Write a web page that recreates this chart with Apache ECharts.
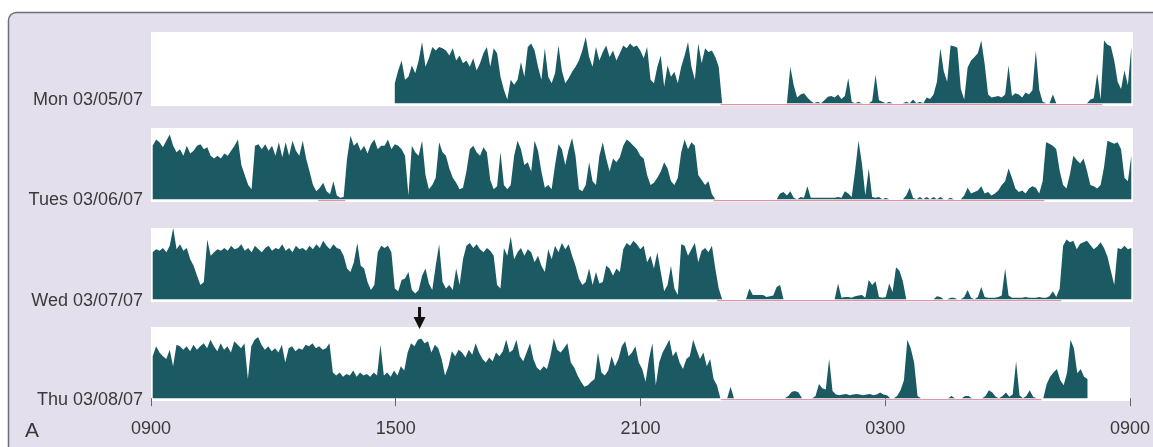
<!DOCTYPE html>
<html>
<head>
<meta charset="utf-8">
<script src="https://cdn.jsdelivr.net/npm/echarts@6/dist/echarts.min.js"></script>
<style>
  html, body { margin: 0; padding: 0; background: #ffffff; }
  #chart { width: 1153px; height: 447px; }
</style>
</head>
<body>
<div id="chart"></div>
<script>
const n = null;

// Row labels and clock labels of the shared time axis
const dayLabels = ['Mon 03/05/07', 'Tues 03/06/07', 'Wed 03/07/07', 'Thu 03/08/07'];
const tickLabels = ['0900', '1500', '2100', '0300', '0900'];
const panelLetter = 'A';

// Wrist activity, one value per 5-minute epoch from 09:00 to 09:00 next day
// (12 epochs per line = one hour; null = device not recording)
const mon = [
  n,n,n,n,n,n,n,n,n,n,n,n,
  n,n,n,n,n,n,n,n,n,n,n,n,
  n,n,n,n,n,n,n,n,n,n,n,n,
  n,n,n,n,n,n,n,n,n,n,n,n,
  n,n,n,n,n,n,n,n,n,n,n,n,
  n,n,n,n,n,n,n,n,n,n,n,28,
  46,60,33,37,53,42,60,86,51,63,79,74,
  79,77,74,67,77,60,67,56,60,51,63,46,
  56,70,79,51,77,70,37,19,5,33,26,33,
  58,37,79,84,74,51,33,77,37,28,42,81,
  46,28,35,44,51,60,74,93,65,51,79,60,
  72,81,65,74,60,70,81,77,84,79,81,74,
  63,79,33,28,51,67,23,53,37,44,28,51,
  67,86,51,33,84,56,77,72,74,65,51,0,
  0,0,0,0,0,0,0,0,0,0,0,0,
  0,0,0,0,0,0,0,51,25,8,12,14,
  8,3,0,2,0,4,9,10,8,12,6,10,
  35,2,0,2,0,0,0,3,40,4,2,0,
  2,0,0,0,0,2,0,5,0,2,0,8,
  6,12,30,77,45,30,81,80,78,20,5,50,
  60,65,70,88,55,12,8,9,10,8,12,53,
  10,14,12,8,15,12,18,74,19,2,0,0,
  12,0,0,0,0,0,0,0,0,0,0,5,
  7,42,5,88,82,80,60,30,20,46,25,79
];

const tue = [
  75,84,80,73,82,91,75,66,70,61,75,64,
  68,75,77,70,73,61,57,61,57,64,61,68,
  75,84,48,34,20,14,75,77,70,77,68,75,
  61,80,59,80,61,82,68,61,82,57,39,20,
  11,16,23,11,7,25,5,2,3,57,89,75,
  80,68,75,64,77,84,70,75,75,84,70,77,
  75,70,61,5,75,66,61,82,34,14,20,30,
  80,66,61,43,30,23,14,16,39,70,75,66,
  61,73,66,27,14,18,66,20,14,20,61,82,
  70,48,52,39,82,68,39,16,20,14,48,77,
  70,48,70,86,61,14,11,20,52,25,20,61,
  80,57,39,57,52,59,75,84,80,75,70,61,
  57,34,20,23,30,39,52,43,25,20,30,66,
  84,70,80,75,34,27,20,25,7,0,0,0,
  0,0,0,0,0,0,0,0,0,0,0,0,
  0,0,0,0,8,10,5,11,2,0,3,2,
  18,2,2,2,2,2,2,2,2,3,2,11,
  8,3,40,82,50,5,43,3,2,3,0,2,
  0,0,0,0,0,5,16,2,0,3,0,3,
  0,3,0,3,0,0,2,0,0,0,5,16,
  8,10,12,18,8,10,5,8,12,20,25,43,
  30,15,10,12,8,15,18,16,8,25,80,78,
  75,70,40,20,15,35,61,55,50,57,40,20,
  18,15,20,45,82,80,78,80,70,30,25,61
];

const wed = [
  66,70,68,72,66,75,100,70,77,68,72,56,
  47,33,20,24,84,61,66,70,68,72,68,75,
  70,72,77,68,72,66,75,70,66,72,75,68,
  72,70,77,68,72,66,75,70,72,68,75,70,
  77,72,82,75,70,77,72,70,61,43,38,52,
  79,47,43,24,13,20,66,75,72,75,66,15,
  11,27,29,38,13,8,13,33,43,22,13,47,
  77,24,15,20,13,43,20,56,75,79,72,77,
  70,66,72,68,61,20,15,72,61,88,56,66,
  72,61,70,66,52,61,47,38,70,56,75,66,
  79,70,77,61,47,29,20,24,43,20,38,22,
  24,47,43,33,43,38,70,79,75,82,77,70,
  75,52,61,43,66,38,11,20,47,15,6,77,
  75,61,70,79,52,68,72,66,75,43,15,0,
  0,0,0,0,0,0,0,15,6,6,6,6,
  3,4,5,17,20,0,0,0,0,0,0,0,
  0,0,0,0,0,0,0,0,0,22,2,3,
  3,2,4,5,6,2,27,20,25,3,2,3,
  22,10,45,40,25,0,0,0,0,0,0,0,
  0,0,4,3,0,0,2,2,0,0,3,13,
  2,0,3,17,3,2,2,2,3,5,43,5,
  2,2,2,2,3,2,2,2,3,2,2,4,
  11,3,15,75,84,80,82,70,78,80,82,76,
  70,74,80,72,60,40,20,72,70,75,70,72
];

const thu = [
  59,73,64,59,55,68,45,75,73,68,73,66,
  75,68,73,77,70,82,73,66,77,68,73,64,
  80,75,70,77,27,73,82,86,75,68,73,66,
  70,64,75,50,70,73,66,70,68,75,73,77,
  70,73,68,70,77,36,32,36,30,34,32,39,
  30,36,32,34,30,36,32,75,32,36,30,39,
  32,45,39,64,77,73,82,84,77,80,64,75,
  70,55,32,45,66,59,68,64,57,68,61,77,
  64,55,50,57,52,64,59,66,82,64,68,82,
  59,52,64,77,55,43,39,45,41,59,84,68,
  64,70,77,50,43,32,23,16,18,23,27,64,
  36,32,39,59,45,55,73,80,59,64,73,50,
  41,23,55,77,18,50,64,73,82,59,66,50,
  41,55,59,82,68,55,64,45,55,27,18,0,
  0,0,16,0,0,0,0,0,0,0,0,0,
  0,0,0,0,0,0,0,3,9,10,8,0,
  0,0,0,3,20,14,12,55,10,5,4,5,
  6,4,5,6,5,4,5,6,4,5,8,5,
  4,0,0,3,11,25,82,70,50,3,0,0,
  0,0,0,0,0,0,0,3,0,0,0,3,
  3,0,0,0,0,3,11,8,2,0,3,8,
  2,5,52,4,0,3,11,2,0,0,0,20,
  30,36,41,25,18,36,82,70,35,41,30,27,
  n,n,n,n,n,n,n,n,n,n,n,n
];

// Scored rest intervals (clock time start, end) for each day
const restMon = [['22:55', '08:15']];
const restTue = [['13:05', '13:45'], ['22:45', '06:50']];
const restWed = [['22:50', '07:15']];
const restThu = [['22:58', '06:50']];

// Event marked on Thursday afternoon
const markerTime = '15:35';

const days = [mon, tue, wed, thu];
const rests = [restMon, restTue, restWed, restThu];

const EPOCH = 5;
const DAY_MIN = 1440;
const TEAL = '#1c5a63';
const PINK = '#dc97ab';
const TEXT = '#3a3a3a';
const FONT = '"Liberation Sans", Arial, Helvetica, sans-serif';

// minutes elapsed since 09:00 for an "HH:MM" clock time
function sinceNine(t) {
  const [h, m] = t.split(':').map(Number);
  return ((h * 60 + m - 540) % DAY_MIN + DAY_MIN) % DAY_MIN;
}

const panelTops = [32, 128, 228, 327];
const panelHeight = 74;

const grids = [], xAxes = [], yAxes = [], series = [];

days.forEach((vals, d) => {
  const last = d === days.length - 1;
  grids.push({
    left: 151, right: 20, top: panelTops[d], height: panelHeight,
    show: true, backgroundColor: '#ffffff', borderWidth: 0
  });
  xAxes.push({
    type: 'value', gridIndex: d, min: 0, max: DAY_MIN, interval: 360,
    axisLine: { show: false },
    splitLine: { show: false },
    axisTick: { show: last, length: 8, lineStyle: { color: '#666', width: 1 } },
    axisLabel: {
      show: last, margin: 19, color: TEXT, fontSize: 18, fontFamily: FONT,
      showMinLabel: true, showMaxLabel: true,
      formatter: v => tickLabels[Math.round(v / 360)]
    }
  });
  yAxes.push({
    type: 'value', gridIndex: d, min: -4, max: 100, show: false,
    splitLine: { show: false }
  });

  const s = {
    type: 'line', xAxisIndex: d, yAxisIndex: d,
    data: vals.map((v, i) => [i * EPOCH + EPOCH / 2, v]),
    showSymbol: false, symbol: 'none', connectNulls: false,
    lineStyle: { color: TEAL, width: 0 },
    areaStyle: { color: TEAL, opacity: 1 },
    z: 2, silent: true, animation: false
  };
  if (last) {
    s.markPoint = {
      silent: true, animation: false,
      symbol: 'path://M4.5,0 L7.5,0 L7.5,10 L12,10 L6,22 L0,10 L4.5,10 Z',
      symbolSize: [12, 22], symbolOffset: [0, -9],
      itemStyle: { color: '#111' },
      label: { show: false },
      data: [{ coord: [sinceNine(markerTime), 100] }]
    };
  }
  series.push(s);

  rests[d].forEach(([a, b]) => {
    series.push({
      type: 'line', xAxisIndex: d, yAxisIndex: d,
      data: [[sinceNine(a), -2.2], [sinceNine(b), -2.2]],
      showSymbol: false, symbol: 'none',
      lineStyle: { color: PINK, width: 1.3 },
      z: 3, silent: true, animation: false
    });
  });
});

// Row captions beside each panel
const labelY = [100, 200, 301, 400];
const graphics = [
  {
    type: 'rect', z: -10, silent: true,
    shape: { x: 8.5, y: 12.5, width: 1200, height: 500, r: [8, 0, 0, 0] },
    style: { fill: '#e4dfec', stroke: '#6e6e78', lineWidth: 1.5 }
  },
  {
    type: 'text', left: 25, top: 421,
    style: { text: panelLetter, fill: TEXT, font: '21px ' + FONT }
  }
];
dayLabels.forEach((t, i) => {
  graphics.push({
    type: 'text', silent: true,
    x: 143, y: labelY[i],
    style: {
      text: t, fill: TEXT, font: '18px ' + FONT,
      align: 'right', verticalAlign: 'middle'
    }
  });
});

const chart = echarts.init(document.getElementById('chart'), null, { renderer: 'canvas' });
chart.setOption({
  animation: false,
  backgroundColor: 'transparent',
  grid: grids,
  xAxis: xAxes,
  yAxis: yAxes,
  series: series,
  graphic: graphics
});
</script>
</body>
</html>
